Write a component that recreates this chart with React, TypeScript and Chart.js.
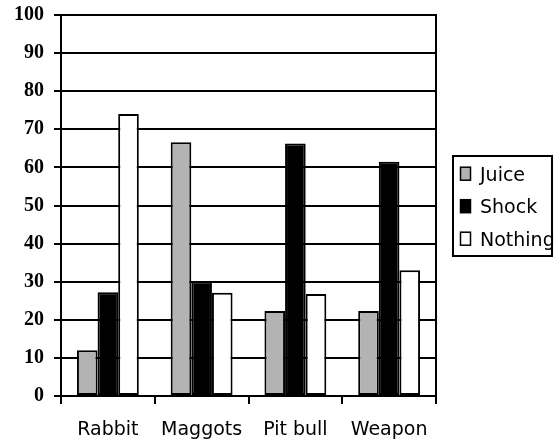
import React, { useEffect, useRef } from "react";
import { Chart, registerables } from "chart.js";

Chart.register(...registerables);

const categories = ["Rabbit", "Maggots", "Pit bull", "Weapon"];
const seriesNames = ["Juice", "Shock", "Nothing"];
const juiceValues = [12, 66.6, 22.3, 22.3];
const shockValues = [27.2, 30.1, 66.3, 61.5];
const nothingValues = [74, 27.1, 26.8, 33];
const seriesColors = ["#b3b3b3", "#000000", "#ffffff"];
const yMin = 0;
const yMax = 100;
const yStep = 10;

const legendPlugin = {
  id: "boxedLegend",
  afterDraw(chart: any) {
    const ctx = chart.ctx;
    const area = chart.chartArea;
    const boxLeft = area.right + 17;
    const boxTop = 156;
    ctx.save();
    ctx.strokeStyle = "#000";
    ctx.lineWidth = 2;
    ctx.strokeRect(boxLeft, boxTop, 99, 100);
    ctx.font = '19px "DejaVu Sans"';
    ctx.textBaseline = "alphabetic";
    ctx.textAlign = "left";
    chart.data.datasets.forEach((ds: any, i: number) => {
      const base = 180.7 + i * 32.5;
      ctx.fillStyle = ds.backgroundColor;
      ctx.fillRect(boxLeft + 7.5, base - 13.5, 10, 13);
      ctx.lineWidth = 1.5;
      ctx.strokeStyle = "#000";
      ctx.strokeRect(boxLeft + 7.5, base - 13.5, 10, 13);
      ctx.fillStyle = "#000";
      ctx.fillText(ds.label, boxLeft + 27, base);
    });
    ctx.restore();
  },
};

export default function App() {
  const canvasRef = useRef<HTMLCanvasElement>(null);

  useEffect(() => {
    if (!canvasRef.current) return;
    const values = [juiceValues, shockValues, nothingValues];
    const chart = new Chart(canvasRef.current, {
      type: "bar",
      data: {
        labels: categories,
        datasets: seriesNames.map((name, i) => ({
          label: name,
          data: values[i],
          backgroundColor: seriesColors[i],
          borderColor: "#000",
          borderWidth: 2,
          borderSkipped: false,
          categoryPercentage: 0.66,
          barPercentage: 1,
        })),
      },
      options: {
        responsive: false,
        animation: false,
        layout: { padding: { left: 0, top: 15, right: 119, bottom: 0 } },
        plugins: {
          legend: { display: false },
          tooltip: { enabled: false },
        },
        scales: {
          x: {
            offset: true,
            grid: {
              offset: true,
              drawOnChartArea: false,
              drawTicks: true,
              tickLength: 8,
              color: "#000",
              lineWidth: 2,
            },
            border: { display: true, color: "#000", width: 2 },
            ticks: {
              color: "#000",
              padding: 15,
              font: { family: '"DejaVu Sans"', size: 19 },
              maxRotation: 0,
            },
            afterFit: (s: any) => {
              s.height = 48;
              s.paddingLeft = 0;
              s.paddingRight = 0;
            },
          },
          y: {
            min: yMin,
            max: yMax,
            ticks: {
              stepSize: yStep,
              color: "#000",
              padding: 10,
              font: { family: '"Liberation Serif"', size: 20, weight: "bold" },
            },
            grid: {
              color: "#000",
              lineWidth: 2,
              tickLength: 7,
              drawTicks: true,
            },
            border: { display: true, color: "#000", width: 2 },
            afterFit: (s: any) => {
              s.width = 61;
              s.paddingTop = 0;
              s.paddingBottom = 0;
            },
          },
          yRight: {
            position: "right",
            min: yMin,
            max: yMax,
            ticks: { display: false },
            grid: { drawOnChartArea: false, drawTicks: false },
            border: { display: true, color: "#000", width: 2 },
            afterFit: (s: any) => {
              s.width = 0;
              s.paddingTop = 0;
              s.paddingBottom = 0;
            },
          },
        },
      } as any,
      plugins: [legendPlugin],
    });
    return () => chart.destroy();
  }, []);

  return (
    <div style={{ position: "fixed", left: 0, top: 0, width: 555, height: 444, background: "#fff" }}>
      <canvas ref={canvasRef} width={555} height={444} style={{ display: "block" }} />
    </div>
  );
}
